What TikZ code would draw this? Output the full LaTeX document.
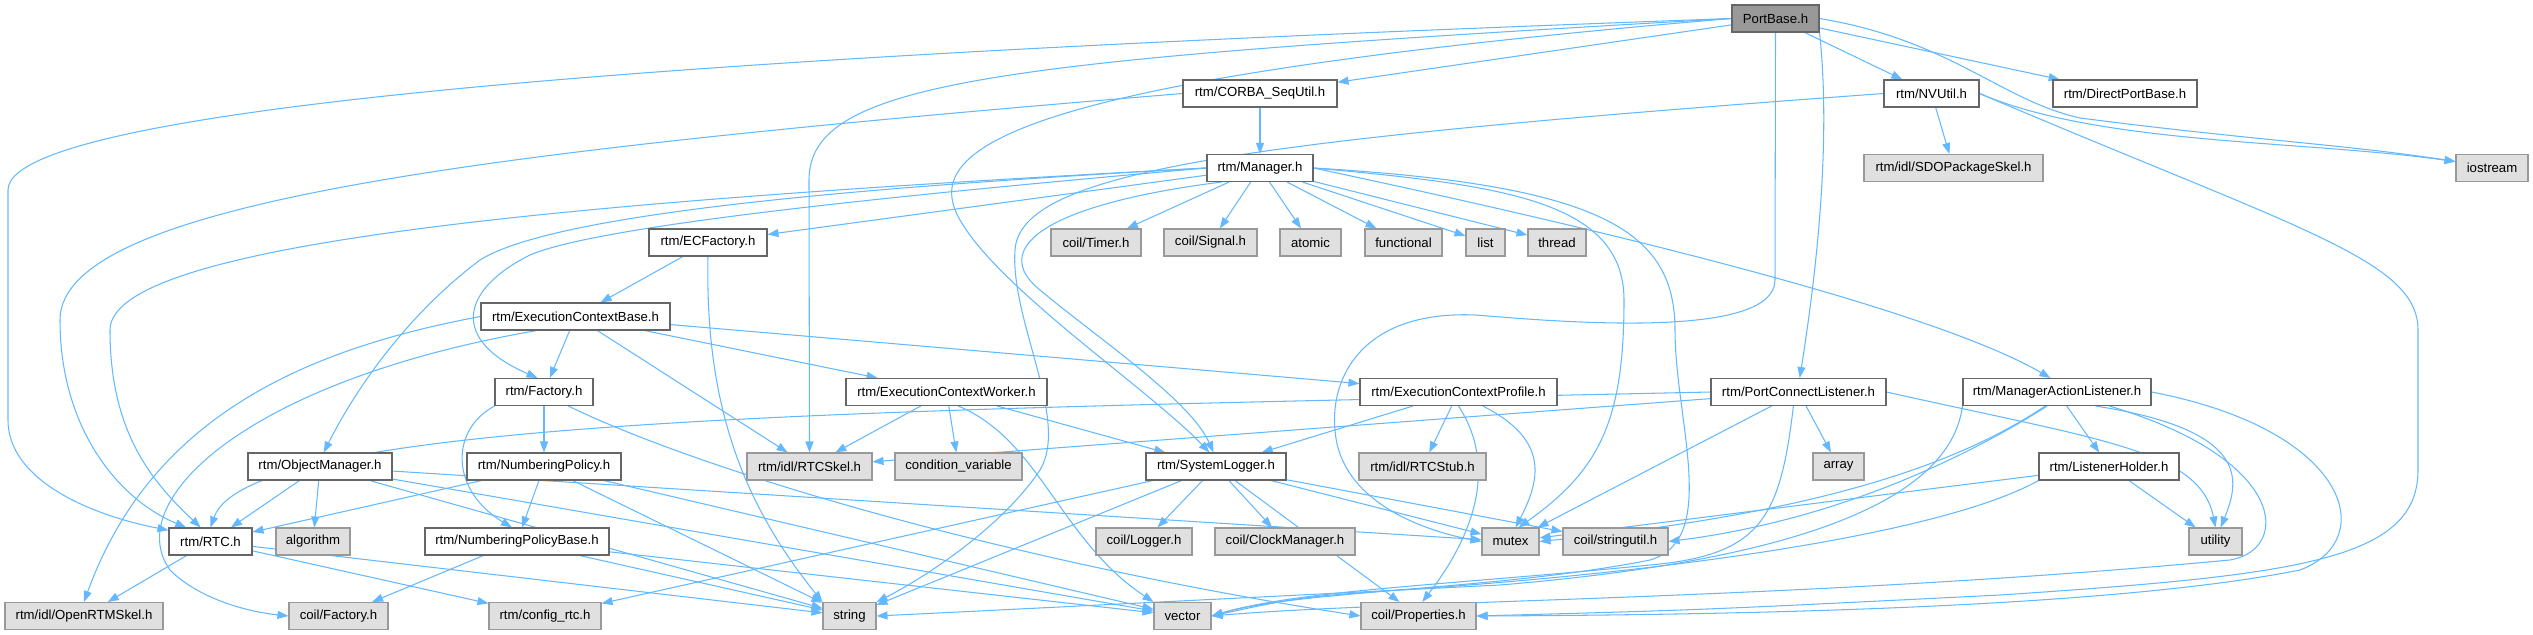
\documentclass[tikz,border=0pt]{standalone}
\usepackage{fontspec}
\setmainfont{Liberation Sans}
\usepackage{tikz}
\usetikzlibrary{arrows.meta,backgrounds}

\definecolor{edgeblue}{HTML}{63B8FF}
\definecolor{hdrline}{HTML}{666666}
\definecolor{sysline}{HTML}{999999}
\definecolor{sysfill}{HTML}{E0E0E0}
\definecolor{mainfill}{HTML}{999999}

\tikzset{
    hdr/.style={draw=hdrline, fill=white, line width=0.6pt, minimum height=0.54cm, inner sep=0pt, font=\fontsize{7.5}{9}\selectfont},
    sys/.style={hdr, draw=sysline, fill=sysfill},
    mainhdr/.style={hdr, draw=hdrline, fill=mainfill},
    boxw/.style={minimum width=#1*0.02cm},
    dep/.style={draw=edgeblue, line width=0.6pt, -{Triangle[length=0.22cm,width=0.16cm]}}
}

\begin{document}
\begin{tikzpicture}[x=0.02cm, y=-0.02cm]

    \useasboundingbox (0,0) rectangle (2533,635);
    \pgfmathsetmacro{\rowA}{18.5}
    \pgfmathsetmacro{\rowB}{93.5}
    \pgfmathsetmacro{\rowC}{168}
    \pgfmathsetmacro{\rowD}{242.5}
    \pgfmathsetmacro{\rowE}{316.5}
    \pgfmathsetmacro{\rowF}{392}
    \pgfmathsetmacro{\rowG}{466.5}
    \pgfmathsetmacro{\rowH}{541.5}
    \pgfmathsetmacro{\rowI}{616}

    % headers
    \node[mainhdr, boxw=87] (portbase) at (1775.5,\rowA) {PortBase.h};
    \node[hdr, boxw=154] (corba) at (1260,\rowB) {rtm/CORBA\_SeqUtil.h};
    \node[hdr, boxw=95] (nvutil) at (1931.5,\rowB) {rtm/NVUtil.h};
    \node[hdr, boxw=144] (directport) at (2125,\rowB) {rtm/DirectPortBase.h};
    \node[hdr, boxw=106] (manager) at (1260,\rowC) {rtm/Manager.h};
    \node[sys, boxw=179] (sdoskel) at (1953.5,\rowC) {rtm/idl/SDOPackageSkel.h};
    \node[sys, boxw=72] (iostream) at (2492,\rowC) {iostream};
    \node[hdr, boxw=118] (ecfactory) at (708,\rowD) {rtm/ECFactory.h};
    \node[sys, boxw=90] (timer) at (1096,\rowD) {coil/Timer.h};
    \node[sys, boxw=93] (signal) at (1210.5,\rowD) {coil/Signal.h};
    \node[sys, boxw=61] (atomic) at (1310.5,\rowD) {atomic};
    \node[sys, boxw=77] (functional) at (1403.5,\rowD) {functional};
    \node[sys, boxw=39] (list) at (1485.5,\rowD) {list};
    \node[sys, boxw=58] (thread) at (1557,\rowD) {thread};
    \node[hdr, boxw=189] (ecbase) at (575.5,\rowE) {rtm/ExecutionContextBase.h};
    \node[hdr, boxw=98] (factory) at (544,\rowF) {rtm/Factory.h};
    \node[hdr, boxw=201] (ecworker) at (946.5,\rowF) {rtm/ExecutionContextWorker.h};
    \node[hdr, boxw=197] (ecprofile) at (1458.5,\rowF) {rtm/ExecutionContextProfile.h};
    \node[hdr, boxw=175] (portconnect) at (1798.5,\rowF) {rtm/PortConnectListener.h};
    \node[hdr, boxw=188] (mgraction) at (2057,\rowF) {rtm/ManagerActionListener.h};
    \node[hdr, boxw=144] (objmanager) at (320,\rowG) {rtm/ObjectManager.h};
    \node[hdr, boxw=154] (numpolicy) at (544,\rowG) {rtm/NumberingPolicy.h};
    \node[sys, boxw=125] (rtcskel) at (809.5,\rowG) {rtm/idl/RTCSkel.h};
    \node[sys, boxw=127] (condvar) at (958.5,\rowG) {condition\_variable};
    \node[hdr, boxw=140] (syslogger) at (1216,\rowG) {rtm/SystemLogger.h};
    \node[sys, boxw=127] (rtcstub) at (1422.5,\rowG) {rtm/idl/RTCStub.h};
    \node[sys, boxw=51] (array) at (1838.5,\rowG) {array};
    \node[hdr, boxw=140] (lholder) at (2109,\rowG) {rtm/ListenerHolder.h};
    \node[hdr, boxw=83] (rtc) at (210.5,\rowH) {rtm/RTC.h};
    \node[sys, boxw=74] (algorithm) at (313,\rowH) {algorithm};
    \node[hdr, boxw=184] (numpolicybase) at (517,\rowH) {rtm/NumberingPolicyBase.h};
    \node[sys, boxw=96] (logger) at (1144,\rowH) {coil/Logger.h};
    \node[sys, boxw=140] (clockmgr) at (1285,\rowH) {coil/ClockManager.h};
    \node[sys, boxw=57] (mutex) at (1510.5,\rowH) {mutex};
    \node[sys, boxw=105] (stringutil) at (1615.5,\rowH) {coil/stringutil.h};
    \node[sys, boxw=53] (utility) at (2215.5,\rowH) {utility};
    \node[sys, boxw=158] (openrtmskel) at (84,\rowI) {rtm/idl/OpenRTMSkel.h};
    \node[sys, boxw=99] (coilfactory) at (338.5,\rowI) {coil/Factory.h};
    \node[sys, boxw=112] (configrtc) at (545,\rowI) {rtm/config\_rtc.h};
    \node[sys, boxw=53] (string) at (849.5,\rowI) {string};
    \node[sys, boxw=57] (vector) at (1182.5,\rowI) {vector};
    \node[sys, boxw=115] (properties) at (1418.5,\rowI) {coil/Properties.h};

    \begin{scope}[on background layer]
        % straight includes
        \foreach \a/\b in {portbase/corba, portbase/nvutil, portbase/directport, corba/manager,
            nvutil/sdoskel, manager/ecfactory, manager/timer, manager/signal, manager/atomic,
            manager/functional, manager/list, manager/thread, ecfactory/ecbase,
            ecbase/factory, ecbase/ecworker, ecbase/ecprofile, ecbase/rtcskel, factory/numpolicy,
            numpolicy/numpolicybase, numpolicy/rtc, objmanager/rtc, objmanager/algorithm,
            numpolicybase/coilfactory, rtc/openrtmskel, rtc/configrtc, rtc/string,
            ecworker/rtcskel, ecworker/condvar, ecworker/syslogger, ecprofile/syslogger,
            ecprofile/rtcstub, syslogger/logger, syslogger/clockmgr, syslogger/string,
            syslogger/configrtc, syslogger/mutex, syslogger/stringutil, syslogger/properties,
            portconnect/rtcskel, portconnect/array, portconnect/mutex, mgraction/lholder,
            lholder/mutex, lholder/utility,
            objmanager/mutex, objmanager/vector, objmanager/string, numpolicy/string,
            numpolicy/vector, numpolicybase/string, numpolicybase/vector} {
            \path[dep] (\a) -- (\b);
        }

        % long routes round the left side
        \path[dep] (portbase.west) .. controls (1000,45) and (8,90) .. (8,190) -- (8,420) .. controls (8,480) and (90,515) .. (rtc.165);
        \path[dep] (corba.west) .. controls (500,150) and (60,200) .. (60,320) .. controls (60,430) and (120,500) .. (rtc.150);
        \path[dep] (manager.west) .. controls (600,200) and (110,240) .. (110,330) .. controls (110,430) and (150,480) .. (rtc.125);
        \path[dep] (manager.west) .. controls (900,185) and (560,210) .. (480,260) .. controls (400,320) and (350,400) .. (objmanager.75);
        \path[dep] (manager.west) .. controls (900,195) and (600,225) .. (530,255) .. controls (460,290) and (450,340) .. (factory.115);
        \path[dep] (portconnect.west) .. controls (900,410) and (250,415) .. (rtc.north);
        \path[dep] (ecbase.west) .. controls (300,350) and (150,420) .. (openrtmskel.north);
        \path[dep] (ecbase.200) .. controls (250,380) and (120,500) .. (170,570) .. controls (200,600) and (250,612) .. (coilfactory.west);
        \path[dep] (factory.south west) .. controls (450,430) and (450,490) .. (numpolicybase.110);
        \path[dep] (factory.-30) .. controls (700,470) and (1000,560) .. (properties.west);

        % middle routes
        \path[dep] (portbase.west) .. controls (1000,60) and (809,80) .. (809,180) -- (rtcskel.north);
        \path[dep] (portbase.west) .. controls (1000,80) and (920,150) .. (960,220) .. controls (1000,290) and (1150,390) .. (syslogger.115);
        \path[dep] (manager.200) .. controls (1040,205) and (990,250) .. (1040,290) .. controls (1100,340) and (1190,400) .. (syslogger.100);
        \path[dep] (nvutil.west) .. controls (1250,140) and (1020,170) .. (1015,250) .. controls (1010,320) and (1070,420) .. (1040,470) .. controls (1000,530) and (920,580) .. (string.north east);
        \path[dep] (ecfactory.south) .. controls (705,400) and (740,500) .. (string.north west);
        \path[dep] (ecworker.310) .. controls (1040,440) and (1060,540) .. (vector.north west);
        \path[dep] (ecprofile.south) .. controls (1500,470) and (1470,540) .. (properties.75);
        \path[dep] (ecprofile.330) .. controls (1550,440) and (1540,480) .. (mutex.70);
        \path[dep] (portbase.south) -- (1775,280) .. controls (1775,340) and (1560,322) .. (1476,315) .. controls (1360,310) and (1330,380) .. (1335,430) .. controls (1340,500) and (1420,530) .. (mutex.west);
        \path[dep] (manager.east) .. controls (1500,185) and (1624,200) .. (1624,300) .. controls (1624,420) and (1600,470) .. (mutex.60);
        \path[dep] (manager.east) .. controls (1600,185) and (1675,230) .. (1675,330) .. controls (1675,420) and (1720,540) .. (1650,560) .. controls (1500,590) and (1300,590) .. (vector.east);
        \path[dep] (manager.east) .. controls (1700,250) and (1950,320) .. (mgraction.115);

        % right side routes
        \path[dep] (portbase.south east) .. controls (1830,130) and (1820,250) .. (portconnect.85);
        \path[dep] (portbase.east) .. controls (1950,40) and (2000,100) .. (2080,118) .. controls (2250,140) and (2350,145) .. (iostream.170);
        \path[dep] (nvutil.east) .. controls (2100,145) and (2300,140) .. (iostream.170);
        \path[dep] (nvutil.east) .. controls (2300,230) and (2418,260) .. (2418,330) -- (2418,470) .. controls (2418,560) and (2300,575) .. (2000,595) .. controls (1700,610) .. (properties.east);
        \path[dep] (portconnect.east) .. controls (2100,440) and (2200,450) .. (utility.north);
        \path[dep] (portconnect.250) .. controls (1780,520) and (1760,555) .. (1650,565) .. controls (1450,585) and (1300,590) .. (vector.east);
        \path[dep] (mgraction.230) .. controls (1950,470) and (1800,515) .. (mutex.east);
        \path[dep] (mgraction.235) .. controls (1930,480) and (1800,525) .. (stringutil.east);
        \path[dep] (mgraction.340) .. controls (2250,430) and (2240,480) .. (utility.70);
        \path[dep] (mgraction.345) .. controls (2290,460) and (2290,550) .. (2230,560) .. controls (1800,600) and (1400,600) .. (vector.east);
        \path[dep] (mgraction.east) .. controls (2350,430) and (2380,540) .. (2300,570) .. controls (2100,610) and (1700,615) .. (properties.east);
        \path[dep] (mgraction.south west) .. controls (1950,500) and (1800,560) .. (1500,585) .. controls (1200,600) and (1000,610) .. (string.east);
        \path[dep] (lholder.south west) .. controls (1950,530) and (1700,570) .. (1400,590) .. controls (1300,597) .. (vector.east);
    \end{scope}

\end{tikzpicture}
\end{document}
